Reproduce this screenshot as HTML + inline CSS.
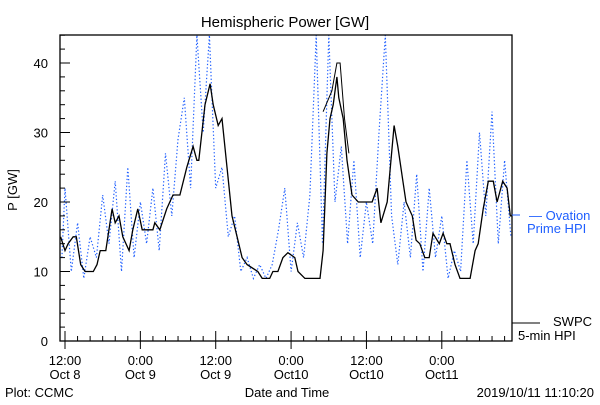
<!DOCTYPE html>
<html><head><meta charset="utf-8"><style>
body{margin:0;background:#fff}
svg text{font-family:"Liberation Sans",sans-serif}
</style></head><body>
<svg id="c" width="600" height="400" xmlns="http://www.w3.org/2000/svg">
<rect width="600" height="400" fill="#fff"/>
<text x="285" y="27" font-size="15" text-anchor="middle">Hemispheric Power [GW]</text>
<text transform="translate(17,190) rotate(-90)" font-size="13" text-anchor="middle">P [GW]</text>
<g id="series"></g>
<rect x="60" y="35" width="452" height="306" fill="none" stroke="#000" stroke-width="1.3"/>
<g id="axes"></g>
<line x1="512" y1="215" x2="520" y2="215" stroke="#1f5fff"/>
<text x="529" y="220" font-size="13" fill="#1f5fff">— Ovation</text>
<text x="527" y="233" font-size="13" fill="#1f5fff">Prime HPI</text>
<line x1="512" y1="323" x2="540" y2="323" stroke="#000"/>
<text x="553" y="326" font-size="13">SWPC</text>
<text x="518" y="340" font-size="13">5-min HPI</text>
<text x="5" y="397" font-size="13">Plot: CCMC</text>
<text x="287" y="397" font-size="13" text-anchor="middle">Date and Time</text>
<text x="594" y="397" font-size="13" text-anchor="end">2019/10/11 11:10:20</text>
</svg>
<script>
const swpcT=[-0.7,0,0.5,1.3,1.8,2.5,3.2,4.5,5.1,5.6,6.5,7.5,8,8.6,9.2,10.2,10.8,11.6,12.3,14,14.3,15.1,16.2,17.2,18.3,19.4,20.4,21,21.3,22.3,23.1,23.6,24.4,25,25.8,26.6,27.4,28.2,29,30.7,31.4,32.6,33.1,33.9,34.7,35.5,36.6,37.1,38.2,40.6,41.1,41.7,42.2,42.7,43.3,43.6,44.3,44.9,45.7,46.7,48.9,49.7,50.3,51.3,52.4,53,53.8,54.3,55.3,55.9,56.5,57.3,58,58.6,59.6,60.2,60.8,61.3,62.1,62.9,64.5,65.3,65.8,66.6,67.4,68.2,68.8,69.7,70.4,70.9,71.2];
const swpcV=[15,13,14,15,15,11,10,10,11,13,13,19,17,18,15,13,16,19,16,16,17,16,19,21,21,25,28,26,26,34,37,34,31,32,25,18,15,12,11,10,9,9,10,10,12,12.7,12,10,9,9,13,27,32,34,38,35,32,26,21,20,20,22,17,20,31,28,23,20,18,14.5,14,12,12,15.5,14,15.5,14,14,11,9,9,13,14,19,23,23,20,23,22,18,18];
const altT=[41.1,42.5,43.3,43.8,44.5,45.2];
const altV=[33,36,40,40,32,27];
const ovT=[-0.5,0,1,2,3,4,5,6,7,8,9,10,11,12,13,14,15,16,17,18,19,20,21,22,23,24,25,26,27,28,29,30,31,32,33,34,35,36,37,38,39,40,41,42,43,44,45,46,47,48,49,50,51,52,53,54,55,56,57,58,59,60,61,62,63,64,65,66,67,68,69,70,71];
const ovV=[12,22,10,17,9,15,12,21,14,23,10,25,12,20,14,22,13,27,18,29,35,22,44,30,44,22,25,15,18,10,12,9,11,9,11,16,22,10,17,12,21,44,14,44,20,28,14,26,12,20,14,30,44,18,11,20,12,24,10,22,12,18,9,13,10,26,14,30,18,33,14,26,15];
const yTicks=[0,10,20,30,40];
const xMajor=[0,12,24,36,48,60];
const xLab1=["12:00","0:00","12:00","0:00","12:00","0:00"];
const xLab2=["Oct 8","Oct 9","Oct 9","Oct10","Oct10","Oct11"];
const NS="http://www.w3.org/2000/svg";
const X=t=>65+6.28*t, Y=v=>341-6.95*v;
const Ymin=44;
function mk(tag,attrs,parent){const e=document.createElementNS(NS,tag);for(const k in attrs)e.setAttribute(k,attrs[k]);parent.appendChild(e);return e;}
const S=document.getElementById('series'),A=document.getElementById('axes');
function pts(T,V){return T.map((t,i)=>X(t).toFixed(1)+','+Math.max(35,Y(V[i])).toFixed(1)).join(' ');}
let p=mk('polyline',{points:pts(ovT,ovV),fill:'none',stroke:'#1f5fff','stroke-width':1.2,'stroke-dasharray':'1.3 2.2'},S);


p=mk('polyline',{points:pts(swpcT,swpcV),fill:'none',stroke:'#000','stroke-width':1.3},S);


p=mk('polyline',{points:pts(altT,altV),fill:'none',stroke:'#000','stroke-width':1},S);


for(let v=0;v<=44;v+=2){const big=v%10===0;mk('line',{x1:60,x2:60+(big?10:5),y1:Y(v),y2:Y(v),stroke:'#000'},A);}
yTicks.forEach(v=>{const t=mk('text',{x:48,y:Y(v)+5,'font-size':13,'text-anchor':'end'},A);t.textContent=v;

});
for(let h=0;h<=70;h+=2){if(X(h)>512)break;const big=h%12===0;mk('line',{x1:X(h),x2:X(h),y1:341,y2:341-(big?10:5),stroke:'#000'},A);mk('line',{x1:X(h),x2:X(h),y1:341,y2:341+(big?8:0),stroke:'#000'},A);}
xMajor.forEach((h,i)=>{let t=mk('text',{x:X(h),y:365,'font-size':13,'text-anchor':'middle'},A);t.textContent=xLab1[i];


t=mk('text',{x:X(h),y:379,'font-size':13,'text-anchor':'middle'},A);t.textContent=xLab2[i];

});
</script>
</body></html>
